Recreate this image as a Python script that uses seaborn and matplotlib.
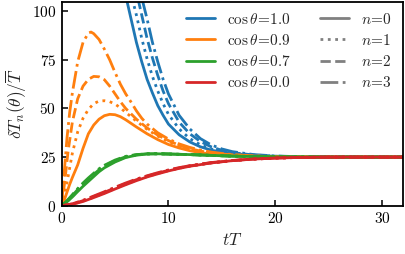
import numpy as np
import pandas as pd
import matplotlib
matplotlib.use("Agg")
import matplotlib.pyplot as plt
import seaborn as sns
from matplotlib.lines import Line2D

# ---------------- data ----------------
cos_labels = ["1.0", "0.9", "0.7", "0.0"]
n_labels = ["0", "1", "2", "3"]

# cos theta = 1.0 (blue), starts above the visible range
t_b0 = [5.0, 5.5, 6.0, 6.5, 7.0, 7.5, 8.0, 8.5, 9.0, 9.5, 10, 11, 12, 13, 14, 15, 16, 18, 20, 22, 25, 32]
y_b0 = [140, 122, 108, 96, 84, 74, 65, 58, 51.5, 46.5, 42, 36.5, 32.8, 30.3, 28.6, 27.5, 26.7, 25.8, 25.3, 25.1, 25.0, 25.0]
t_b1 = [5.5, 6.0, 6.5, 7.0, 7.5, 8.0, 8.5, 9.0, 9.5, 10, 11, 12, 13, 14, 15, 16, 18, 20, 22, 25, 32]
y_b1 = [135, 121, 109, 98, 86, 75.5, 66.5, 59, 52.5, 47, 39.5, 34.5, 31.3, 29.2, 27.8, 26.9, 25.9, 25.4, 25.15, 25.03, 25.0]
t_b2 = [6.0, 6.5, 7.0, 7.5, 8.0, 8.5, 9.0, 9.5, 10, 11, 12, 13, 14, 15, 16, 18, 20, 22, 25, 32]
y_b2 = [133, 120, 110, 98, 86, 76, 67, 59, 52.5, 43, 37, 33, 30.3, 28.5, 27.3, 26.1, 25.5, 25.2, 25.05, 25.0]
t_b3 = [6.5, 7.0, 7.5, 8.0, 8.5, 9.0, 9.5, 10, 11, 12, 13, 14, 15, 16, 18, 20, 22, 25, 32]
y_b3 = [128, 117, 107, 96, 84, 74, 65, 57.5, 46.5, 39.5, 34.5, 31.3, 29.2, 27.8, 26.3, 25.6, 25.25, 25.06, 25.0]

# cos theta = 0.9 (orange)
t_o0 = [0, 0.25, 0.5, 0.75, 1, 1.5, 2, 2.5, 3, 3.5, 4, 4.5, 5, 5.5, 6, 7, 8, 9, 10, 11, 12, 13, 14, 15, 16, 18, 20, 22, 25, 32]
y_o0 = [0, 3, 7, 11, 14.5, 21, 29.5, 37, 41.5, 44.5, 46.3, 47, 46.8, 45.8, 44.2, 40.5, 37, 34, 31.5, 29.7, 28.3, 27.3, 26.6, 26.1, 25.8, 25.35, 25.15, 25.05, 25.0, 25.0]
t_o1 = [0, 0.3, 0.6, 1, 1.5, 2, 2.5, 3, 3.5, 4, 4.5, 5, 5.5, 6, 7, 8, 9, 10, 11, 12, 13, 14, 15, 16, 18, 20, 22, 25, 32]
y_o1 = [0, 6, 15, 27, 38, 45, 49.5, 52.5, 53.8, 54, 53.5, 52.3, 50.3, 48, 43.5, 39.3, 35.8, 33, 30.8, 29.2, 28, 27.1, 26.5, 26.1, 25.5, 25.2, 25.07, 25.0, 25.0]
t_o2 = [0, 0.3, 0.6, 1, 1.5, 2, 2.5, 3, 3.5, 4, 4.5, 5, 5.5, 6, 7, 8, 9, 10, 11, 12, 13, 14, 15, 16, 18, 20, 22, 25, 32]
y_o2 = [0, 13, 28, 43, 55, 61.5, 65, 66.5, 66.3, 64.8, 61.5, 57.5, 53.5, 50, 44.5, 40, 36.3, 33.5, 31.1, 29.4, 28.1, 27.2, 26.6, 26.2, 25.55, 25.22, 25.08, 25.0, 25.0]
t_o3 = [0, 0.25, 0.5, 0.75, 1, 1.5, 2, 2.5, 2.75, 3, 3.5, 4, 4.5, 5, 5.5, 6, 6.5, 7, 7.5, 8, 9, 10, 11, 12, 13, 14, 15, 16, 18, 20, 22, 25, 32]
y_o3 = [0, 18, 35, 48, 58, 74, 84, 88.8, 89.3, 88.5, 85.5, 80.5, 75, 68.5, 62.5, 57.5, 53.3, 48.8, 45, 42, 37.5, 34.3, 31.8, 30, 28.6, 27.6, 26.9, 26.3, 25.6, 25.25, 25.1, 25.02, 25.0]

# cos theta = 0.7 (green), the four n nearly coincide
t_g = [0, 0.5, 1, 1.5, 2, 2.5, 3, 3.5, 4, 5, 6, 7, 8, 9, 10, 12, 14, 16, 18, 20, 22, 25, 32]
y_g0 = [0, 2, 4.5, 7.3, 10, 12.5, 15, 17.5, 19.5, 22.5, 24.8, 26, 26.6, 26.7, 26.6, 26.3, 25.9, 25.5, 25.3, 25.15, 25.05, 25.0, 25.0]
y_g1 = [0, 2.2, 4.9, 7.8, 10.6, 13.1, 15.6, 18, 20, 22.9, 25, 26.1, 26.6, 26.7, 26.6, 26.3, 25.9, 25.5, 25.3, 25.15, 25.05, 25.0, 25.0]
y_g2 = [0, 2.4, 5.3, 8.3, 11.1, 13.7, 16.1, 18.5, 20.4, 23.2, 25.2, 26.2, 26.7, 26.7, 26.6, 26.3, 25.9, 25.5, 25.3, 25.15, 25.05, 25.0, 25.0]
y_g3 = [0, 2.6, 5.7, 8.8, 11.7, 14.3, 16.7, 19, 20.8, 23.5, 25.4, 26.3, 26.7, 26.8, 26.6, 26.3, 25.9, 25.5, 25.3, 25.15, 25.05, 25.0, 25.0]

# cos theta = 0.0 (red)
t_r = [0, 1, 2, 3, 4, 5, 6, 7, 8, 9, 10, 11, 12, 14, 16, 18, 20, 22, 25, 32]
y_r0 = [0, 0.7, 2.2, 4.2, 6.3, 8.6, 10.8, 12.9, 14.8, 16.4, 17.9, 19.2, 20.3, 22, 23.2, 24, 24.5, 24.8, 25.0, 25.0]
y_r1 = [0, 0.8, 2.4, 4.4, 6.6, 8.9, 11.1, 13.2, 15.0, 16.6, 18.1, 19.3, 20.4, 22, 23.2, 24, 24.5, 24.8, 25.0, 25.0]
y_r2 = [0, 0.9, 2.6, 4.7, 6.9, 9.2, 11.4, 13.4, 15.2, 16.8, 18.2, 19.4, 20.5, 22.1, 23.2, 24, 24.5, 24.8, 25.0, 25.0]
y_r3 = [0, 1.0, 2.8, 5.0, 7.2, 9.5, 11.7, 13.7, 15.4, 17.0, 18.4, 19.6, 20.6, 22.2, 23.3, 24, 24.5, 24.8, 25.0, 25.0]

x_ticks = [0, 10, 20, 30]
y_ticks = [0, 25, 50, 75, 100]

# ---------------- build long table ----------------
series = [
    ("1.0", "0", t_b0, y_b0), ("1.0", "1", t_b1, y_b1), ("1.0", "2", t_b2, y_b2), ("1.0", "3", t_b3, y_b3),
    ("0.9", "0", t_o0, y_o0), ("0.9", "1", t_o1, y_o1), ("0.9", "2", t_o2, y_o2), ("0.9", "3", t_o3, y_o3),
    ("0.7", "0", t_g, y_g0), ("0.7", "1", t_g, y_g1), ("0.7", "2", t_g, y_g2), ("0.7", "3", t_g, y_g3),
    ("0.0", "0", t_r, y_r0), ("0.0", "1", t_r, y_r1), ("0.0", "2", t_r, y_r2), ("0.0", "3", t_r, y_r3),
]
rows = []
for c, n, ts, ys in series:
    for t, y in zip(ts, ys):
        rows.append({"cos": c, "n": n, "t": t, "y": y})
df = pd.DataFrame(rows)

sns.set_theme(style="ticks")
plt.rcParams["mathtext.fontset"] = "cm"
plt.rcParams["font.family"] = ["DejaVu Serif"]

colors = {"1.0": "#1f77b4", "0.9": "#ff7f0e", "0.7": "#2ca02c", "0.0": "#d62728"}
dashes = {"0": "", "1": (1, 1.65), "2": (3.7, 1.6), "3": (6.4, 1.6, 1, 1.6)}

fig = plt.figure(figsize=(4.05, 2.54), dpi=100)
ax = fig.add_axes([0.1523, 0.19, 0.8435, 0.804])

sns.lineplot(data=df, x="t", y="y", hue="cos", style="n", hue_order=cos_labels,
             style_order=n_labels, palette=colors, dashes=dashes, estimator=None,
             sort=False, units=None, lw=2, legend=False, ax=ax)

ax.set_xlim(0, 32)
ax.set_ylim(0, 105)
ax.set_xticks(x_ticks)
ax.set_xticklabels([f"${v}$" for v in x_ticks])
ax.set_yticks(y_ticks)
ax.set_yticklabels([f"${v}$" for v in y_ticks])
ax.tick_params(direction="in", length=4, width=1.1, labelsize=11, colors="black", pad=4)
for s in ax.spines.values():
    s.set_linewidth(1.3)
    s.set_color("black")
ax.set_xlabel(r"$tT$", fontsize=12.5, labelpad=4)
ax.set_ylabel(r"$\delta T_n(\theta)/\overline{T}$", fontsize=12.5, labelpad=2)

handles = [Line2D([], [], color=colors[c], lw=2) for c in cos_labels]
labels = [rf"$\cos\theta\!=\!{c}$" for c in cos_labels]
ls = {"0": "-", "1": ":", "2": "--", "3": "-."}
handles += [Line2D([], [], color="#808080", lw=2, linestyle=ls[n]) for n in n_labels]
labels += [rf"$n\!=\!{n}$" for n in n_labels]
ax.legend(handles, labels, ncol=2, frameon=False, loc="upper right",
          bbox_to_anchor=(0.985, 0.98), borderaxespad=0, fontsize=11,
          handlelength=1.9, handletextpad=0.8, columnspacing=1.9, labelspacing=0.4)

fig.savefig("out.png", dpi=100)
